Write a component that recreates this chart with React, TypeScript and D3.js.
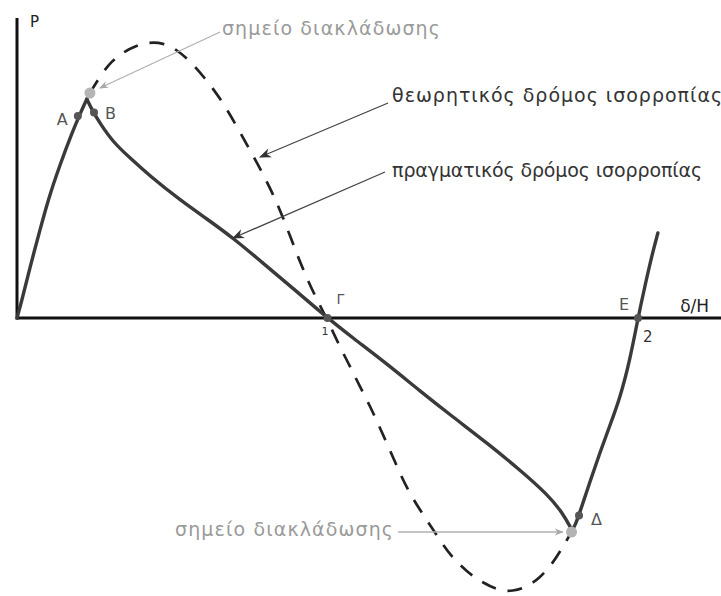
import React, { useEffect } from "react";
import * as d3 from "d3";

// ---- data (x = δ/H, y = P, arbitrary units) ----
const loadingBranch: [number, number][] = [
  [0, 0], [0.016, 0.072], [0.042, 0.204], [0.074, 0.352], [0.1, 0.472],
  [0.138, 0.612], [0.177, 0.74], [0.203, 0.816], [0.225, 0.876],
];
const postBucklingBranch: [number, number][] = [
  [0.225, 0.876], [0.245, 0.824], [0.267, 0.78], [0.309, 0.704], [0.364, 0.64],
  [0.428, 0.568], [0.525, 0.472], [0.612, 0.396], [0.696, 0.32], [0.792, 0.22],
  [0.895, 0.112], [1.0, 0], [1.082, -0.08], [1.192, -0.184], [1.298, -0.292],
  [1.404, -0.396], [1.514, -0.5], [1.62, -0.608], [1.707, -0.704],
  [1.758, -0.78], [1.787, -0.848],
];
const recoveryBranch: [number, number][] = [
  [1.787, -0.848], [1.797, -0.832], [1.813, -0.776], [1.845, -0.656],
  [1.878, -0.536], [1.91, -0.428], [1.942, -0.32], [1.974, -0.168],
  [2.0, 0], [2.023, 0.132], [2.045, 0.252], [2.064, 0.34],
];
const theoreticalPath: [number, number][] = [
  [0.235, 0.9], [0.274, 0.98], [0.306, 1.028], [0.338, 1.06], [0.38, 1.088],
  [0.428, 1.104], [0.47, 1.1], [0.512, 1.076], [0.557, 1.028], [0.605, 0.96],
  [0.654, 0.88], [0.702, 0.78], [0.75, 0.672], [0.789, 0.584], [0.831, 0.48],
  [0.87, 0.36], [0.911, 0.224], [0.95, 0.112], [0.997, 0], [1.04, -0.116],
  [1.072, -0.192], [1.105, -0.276], [1.137, -0.352], [1.169, -0.44],
  [1.201, -0.528], [1.234, -0.624], [1.266, -0.704], [1.298, -0.768],
  [1.33, -0.828], [1.362, -0.888], [1.395, -0.948], [1.449, -1.016],
  [1.501, -1.06], [1.556, -1.092], [1.597, -1.092], [1.636, -1.08],
  [1.684, -1.04], [1.726, -0.98], [1.758, -0.916], [1.784, -0.86],
];

const pathPoints = [
  { id: "A", x: 0.196, y: 0.808, label: "A", dx: -21, dy: 9 },
  { id: "B", x: 0.248, y: 0.822, label: "B", dx: 11, dy: 6 },
  { id: "Γ", x: 1.0, y: 0, label: "Γ", dx: 9, dy: -14 },
  { id: "Δ", x: 1.81, y: -0.79, label: "Δ", dx: 12, dy: 9 },
  { id: "E", x: 2.0, y: 0, label: "E", dx: -19, dy: -8 },
];
const bifurcationPoints = [
  { x: 0.235, y: 0.9 },
  { x: 1.786, y: -0.856 },
];
const crossingLabels = [
  { x: 1.0, y: 0, label: "1", dx: -6, dy: 17 },
  { x: 2.0, y: 0, label: "2", dx: 5, dy: 24 },
];

const axisLabels = { x: "δ/H", y: "P" };
const annotations = [
  { text: "σημείο διακλάδωσης", tx: 0.66, ty: 1.132, anchor: "start", width: 218, from: [0.654, 1.144], to: [0.267, 0.92], kind: "gray" },
  { text: "θεωρητικός δρόμος ισορροπίας", tx: 1.208, ty: 0.864, anchor: "start", width: 330, from: [1.195, 0.86], to: [0.783, 0.644], kind: "dark" },
  { text: "πραγματικός δρόμος ισορροπίας", tx: 1.208, ty: 0.564, anchor: "start", width: 310, from: [1.185, 0.584], to: [0.696, 0.32], kind: "dark" },
  { text: "σημείο διακλάδωσης", tx: 1.211, ty: -0.872, anchor: "end", width: 218, from: [1.227, -0.856], to: [1.758, -0.856], kind: "gray" },
];

const W = 721;
const H = 596;

export default function App() {
  useEffect(() => {
    document.body.style.margin = "0";
  }, []);

  const x = d3.scaleLinear().domain([0, 2]).range([17, 638]);
  const y = d3.scaleLinear().domain([0, 1]).range([318, 68]);

  const line = d3
    .line<[number, number]>()
    .x((d) => x(d[0]))
    .y((d) => y(d[1]))
    .curve(d3.curveBasis);

  const solidColor = "#3a3a3a";
  const grayText = "#9a9a9a";
  const font = "'DejaVu Sans', Verdana, sans-serif";

  return (
    <svg
      width={W}
      height={H}
      viewBox={`0 0 ${W} ${H}`}
      style={{ display: "block", position: "absolute", left: 0, top: 0, background: "#fff" }}
    >
      <defs>
        <marker id="arrGray" viewBox="0 0 10 10" refX="9" refY="5" markerWidth="9" markerHeight="9" markerUnits="userSpaceOnUse" orient="auto">
          <path d="M0,1 L10,5 L0,9 L3,5 Z" fill="#a8a8a8" />
        </marker>
        <marker id="arrDark" viewBox="0 0 10 10" refX="9" refY="5" markerWidth="12" markerHeight="12" markerUnits="userSpaceOnUse" orient="auto">
          <path d="M0,1 L10,5 L0,9 L3,5 Z" fill="#333" />
        </marker>
      </defs>

      {/* axes */}
      <line x1={x(0)} y1={y(0)} x2={W} y2={y(0)} stroke="#111" strokeWidth={3} />
      <line x1={x(0)} y1={y(0) + 1.5} x2={x(0)} y2={y(1.2)} stroke="#111" strokeWidth={3} />
      <text x={x(0) + 13} y={y(1.2) + 9} fontFamily={font} fontSize={15} fill="#222">{axisLabels.y}</text>
      <text x={x(2.136)} y={y(0) - 6} fontFamily={font} fontSize={17} fill="#222">{axisLabels.x}</text>

      {/* theoretical path */}
      <path d={line(theoreticalPath) || ""} fill="none" stroke="#222" strokeWidth={2.7} strokeDasharray="15 12" strokeLinecap="butt" />

      {/* real path */}
      {[loadingBranch, postBucklingBranch, recoveryBranch].map((b, i) => (
        <path key={i} d={line(b) || ""} fill="none" stroke={solidColor} strokeWidth={3.4} strokeLinejoin="round" strokeLinecap="round" />
      ))}

      {/* annotation arrows */}
      {annotations.map((a, i) => (
        <g key={i}>
          <line
            x1={x(a.from[0])}
            y1={y(a.from[1])}
            x2={x(a.to[0])}
            y2={y(a.to[1])}
            stroke={a.kind === "gray" ? "#b0b0b0" : "#444"}
            strokeWidth={1.3}
            markerEnd={a.kind === "gray" ? "url(#arrGray)" : "url(#arrDark)"}
          />
          <text
            x={x(a.tx)}
            y={y(a.ty)}
            textAnchor={a.anchor as any}
            fontFamily={font}
            fontSize={19}
            textLength={a.width}
            lengthAdjust="spacing"
            fill={a.kind === "gray" ? grayText : "#333"}
          >
            {a.text}
          </text>
        </g>
      ))}

      {/* points */}
      {pathPoints.map((p) => (
        <g key={p.id}>
          <circle cx={x(p.x)} cy={y(p.y)} r={4} fill="#555" />
          <text x={x(p.x) + p.dx} y={y(p.y) + p.dy} fontFamily={font} fontSize={p.id === "Γ" ? 14 : 16} fill="#555">
            {p.label}
          </text>
        </g>
      ))}
      {bifurcationPoints.map((p, i) => (
        <circle key={i} cx={x(p.x)} cy={y(p.y)} r={5.5} fill="#b4b4b4" />
      ))}
      {crossingLabels.map((c, i) => (
        <text key={i} x={x(c.x) + c.dx} y={y(c.y) + c.dy} fontFamily={font} fontSize={c.label === "1" ? 11 : 15} fill="#333">
          {c.label}
        </text>
      ))}
    </svg>
  );
}
